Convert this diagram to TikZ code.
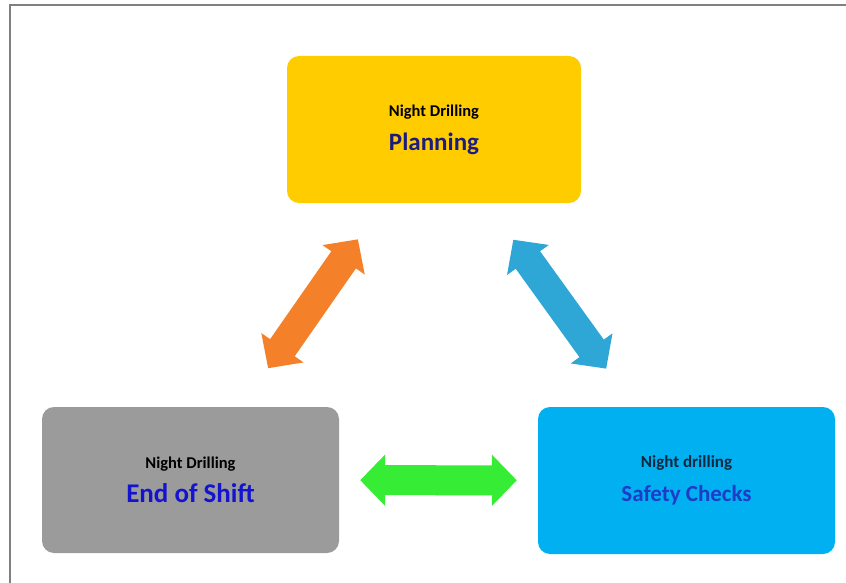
\documentclass[tikz,border=0pt]{standalone}
\usepackage{fontspec}
\setmainfont{Carlito}
\usetikzlibrary{arrows.meta}

\definecolor{planyellow}{HTML}{FFCC00}
\definecolor{shiftgray}{HTML}{9B9B9B}
\definecolor{safetyblue}{HTML}{00B0F0}
\definecolor{navytext}{HTML}{1C1C80}
\definecolor{shifttext}{HTML}{1414D0}
\definecolor{safetytext}{HTML}{1E3CC8}
\definecolor{darktext}{HTML}{102840}
\definecolor{arroworange}{HTML}{F5802A}
\definecolor{arrowblue}{HTML}{2EA6D6}
\definecolor{arrowgreen}{HTML}{36EC34}

\begin{document}
\begin{tikzpicture}[x=1pt,y=-1pt,
  main node/.style={rounded corners=12pt,inner sep=0pt,align=center,
    font=\fontsize{16.5}{34}\selectfont\bfseries},
  twoway/.style={line width=30pt,
    arrows={Triangle[width=50pt,length=25pt]-Triangle[width=50pt,length=25pt]}}]

  \useasboundingbox (0,0) rectangle (846,583);
  \draw[gray,line width=1.8pt] (10,583) -- (10,5) -- (846,5);

  \node[main node,fill=planyellow,minimum width=294pt,minimum height=147pt] (plan) at (434,129.5)
    {Night Drilling\\ \fontsize{25}{34}\selectfont\color{navytext}Planning};
  \node[main node,fill=shiftgray,minimum width=297pt,minimum height=146pt] (end) at (190.5,480)
    {Night Drilling\\ \fontsize{27}{34}\selectfont\color{shifttext}End of Shift};
  \node[main node,fill=safetyblue,minimum width=297pt,minimum height=147pt] (safety) at (686.5,480.5)
    {\fontsize{17}{34}\selectfont\color{darktext}Night drilling\\ \fontsize{23}{34}\selectfont\color{safetytext}Safety Checks};

  \path
   (end) edge[twoway,draw=arroworange,shorten <=47pt,shorten >=44pt] (plan)
   (plan) edge[twoway,draw=arrowblue,shorten <=45pt,shorten >=47pt] (safety)
   (end) edge[twoway,draw=arrowgreen,shorten <=21pt,shorten >=21pt] (safety);
\end{tikzpicture}
\end{document}
